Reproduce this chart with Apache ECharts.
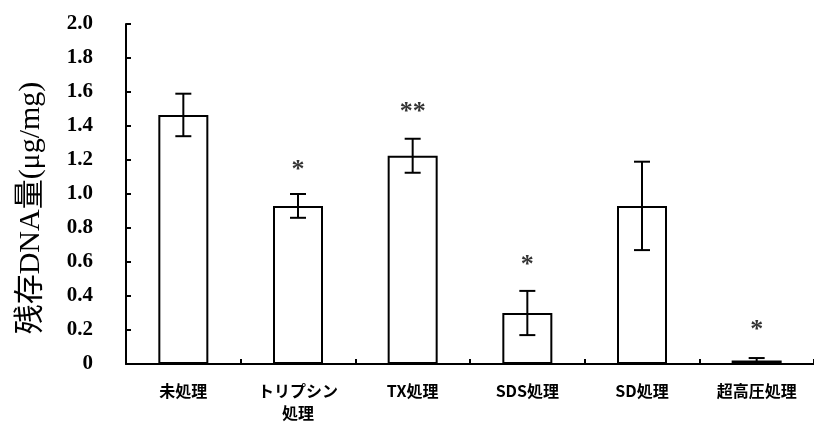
<!DOCTYPE html>
<html>
<head>
<meta charset="utf-8">
<script src="https://cdn.jsdelivr.net/npm/echarts@6/dist/echarts.min.js"></script>
<style>
html, body { margin: 0; padding: 0; background: #fff; }
#main { width: 814px; height: 432px; }
</style>
</head>
<body>
<div id="main"></div>
<script>
// 処理ごとの残存DNA量
var categories = ['未処理', 'トリプシン\n処理', 'TX処理', 'SDS処理', 'SD処理', '超高圧処理'];
var means = [1.465, 0.93, 1.225, 0.30, 0.93, 0.02];
var errs = [0.125, 0.07, 0.10, 0.13, 0.26, 0.015];
var marks = ['', '*', '**', '*', '', '*'];
var markY = [null, 1.17, 1.51, 0.61, null, 0.23];

var chart = echarts.init(document.getElementById('main'));

var errData = means.map(function (m, i) { return [i, m - errs[i], m + errs[i]]; });
var markData = [];
for (var i = 0; i < marks.length; i++) {
  if (marks[i]) markData.push({ value: [i, markY[i]], label: { formatter: marks[i] } });
}

var option = {
  backgroundColor: '#fff',
  animation: false,
  grid: { left: 126, right: -2, top: 24, bottom: 68 },
  xAxis: {
    type: 'category',
    data: categories,
    axisLine: { lineStyle: { color: '#000', width: 2 } },
    axisTick: { show: true, inside: true, length: 5, lineStyle: { color: '#000', width: 2 } },
    axisLabel: {
      color: '#000', fontSize: 16, margin: 16, lineHeight: 22, fontWeight: 'bold',
      fontFamily: 'Noto Sans CJK JP', interval: 0
    }
  },
  yAxis: {
    type: 'value',
    min: 0, max: 2.0, interval: 0.2,
    name: '残存DNA量(μg/mg)',
    nameLocation: 'middle',
    nameGap: 80,
    nameTextStyle: {
      color: '#000', fontSize: 30,
      fontFamily: 'Liberation Serif, Noto Sans CJK JP',
      padding: [0, 28, 0, 0]
    },
    axisLine: { show: true, lineStyle: { color: '#000', width: 2 } },
    axisTick: { show: true, inside: true, length: 5, lineStyle: { color: '#000', width: 2 } },
    splitLine: { show: false },
    axisLabel: {
      color: '#000', fontSize: 21, margin: 33, fontWeight: 'bold',
      fontFamily: 'Liberation Serif',
      formatter: function (v) { return v === 0 ? '0' : v.toFixed(1); }
    }
  },
  series: [
    {
      type: 'bar',
      data: means,
      barWidth: 50,
      itemStyle: { color: '#fff', borderColor: '#000', borderWidth: 2 }
    },
    {
      type: 'custom',
      data: errData,
      z: 10,
      renderItem: function (params, api) {
        var x = api.coord([api.value(0), 0])[0];
        var lo = api.coord([api.value(0), api.value(1)])[1];
        var hi = api.coord([api.value(0), api.value(2)])[1];
        var hw = 8;
        var st = { stroke: '#000', lineWidth: 2 };
        return {
          type: 'group',
          children: [
            { type: 'line', shape: { x1: x, y1: hi, x2: x, y2: lo }, style: st },
            { type: 'line', shape: { x1: x - hw, y1: hi, x2: x + hw, y2: hi }, style: st },
            { type: 'line', shape: { x1: x - hw, y1: lo, x2: x + hw, y2: lo }, style: st }
          ]
        };
      }
    },
    {
      type: 'scatter',
      data: markData,
      symbolSize: 0,
      label: {
        show: true, position: 'inside', color: '#000', offset: [0, 5],
        fontSize: 26, fontWeight: 'bold', fontFamily: 'Liberation Serif'
      }
    }
  ]
};

chart.setOption(option);
</script>
</body>
</html>
